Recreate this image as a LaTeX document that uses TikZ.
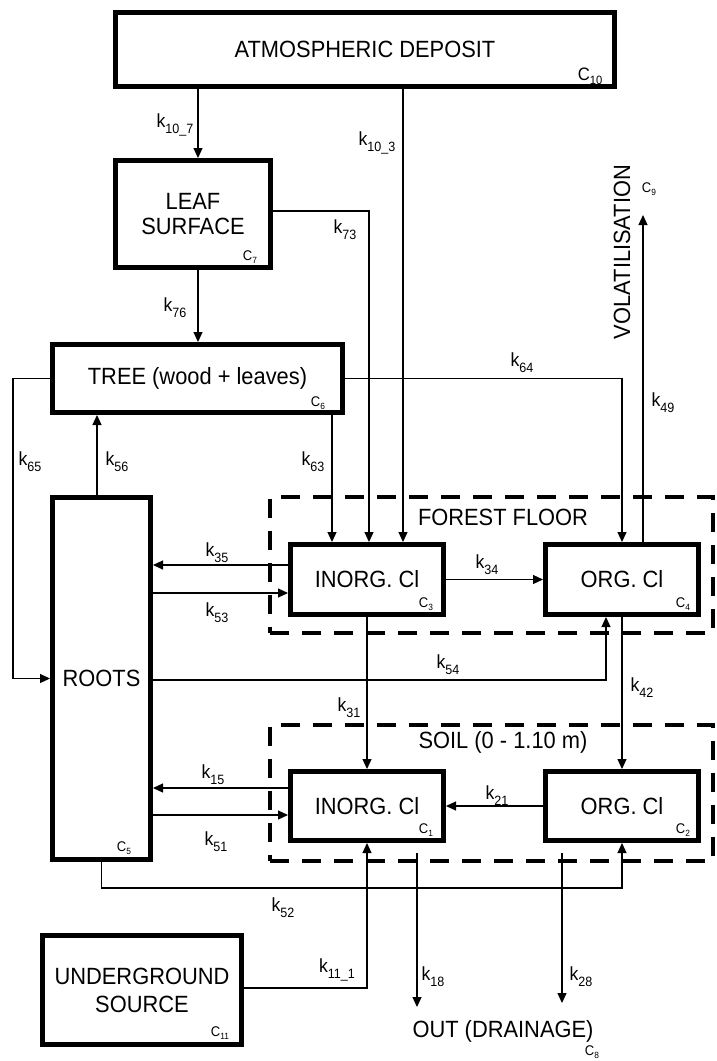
\documentclass[tikz,border=0pt]{standalone}
\usepackage{fontspec}
\setmainfont{Liberation Sans}[FakeStretch=0.93]
\usetikzlibrary{arrows.meta,positioning,calc}

\newcommand{\kr}[1]{k\raisebox{-6pt}{\fontsize{13.5}{14}\selectfont #1}}
\newcommand{\cp}[1]{C\raisebox{-3pt}{\fontsize{9}{9}\selectfont #1}}

\begin{document}
\begin{tikzpicture}[x=1pt,y=-1pt,
    compart/.style={draw, line width=5pt, fill=white, inner sep=0pt, align=center,
      font=\fontsize{23.5}{25}\selectfont},
    zone/.style={draw, line width=4.5pt, dash pattern=on 19pt off 13pt, inner sep=0pt},
    flow/.style={line width=1.2pt, -{Triangle[length=10pt,width=9pt]}},
    rate/.style={font=\fontsize{19}{20}\selectfont, inner sep=0pt},
    cid/.style={font=\fontsize{14}{14}\selectfont, inner sep=0pt},
    txt/.style={font=\fontsize{23.5}{25}\selectfont, inner sep=0pt}]

  \useasboundingbox (0,0) rectangle (716,1061);

  % dashed layers
  \node[zone, minimum width=443pt, minimum height=136pt] (forest) at (491.5,565) {};
  \node[zone, minimum width=443pt, minimum height=136pt] (soil) at (491.5,793) {};
  \node[txt] (forestlbl) at (503,517) {FOREST FLOOR};
  \node[txt] (soillbl) at (503,742) {SOIL (0 - 1.10 m)};

  % compartments
  \node[compart, minimum width=499pt, minimum height=74pt] (atmo) at (365,49.5) {ATMOSPHERIC DEPOSIT};
  \node[compart, minimum width=155pt, minimum height=107pt] (leaf) at (193,214) {LEAF\\SURFACE};
  \node[compart, minimum width=290pt, minimum height=68pt] (tree) at (197.5,378.5) {TREE (wood + leaves)};
  \node[compart, minimum width=98pt, minimum height=362pt] (roots) at (101.5,678.5) {ROOTS};
  \node[compart, minimum width=153pt, minimum height=70pt] (inorg3) at (367,579.5) {INORG. Cl};
  \node[compart, minimum width=153pt, minimum height=70pt] (org4) at (622,579.5) {ORG. Cl};
  \node[compart, minimum width=153pt, minimum height=69pt] (inorg1) at (367,806) {INORG. Cl};
  \node[compart, minimum width=153pt, minimum height=69pt] (org2) at (622,806) {ORG. Cl};
  \node[compart, minimum width=199pt, minimum height=109pt, font=\fontsize{23.5}{28}\selectfont] (under) at (142,990) {UNDERGROUND\\SOURCE};

  % compartment numbers
  \node[font=\fontsize{18}{18}\selectfont, inner sep=0pt] (c10) at (590,76)
    {C\raisebox{-4pt}{\fontsize{12}{12}\selectfont 10}};
  \node[cid] (c7) at (250,257) {\cp{7}};
  \node[cid] (c6) at (318,403) {\cp{6}};
  \node[cid] (c5) at (124,848) {\cp{5}};
  \node[cid] (c3) at (426,604) {\cp{3}};
  \node[cid] (c4) at (683,604) {\cp{4}};
  \node[cid] (c1) at (426,830) {\cp{1}};
  \node[cid] (c2) at (683,830) {\cp{2}};
  \node[cid] (c11) at (220,1033) {\cp{11}};
  \node[txt, rotate=90] (volatlbl) at (622,252) {VOLATILISATION};
  \node[cid] (c9) at (649,189) {\cp{9}};
  \node[txt] (outlbl) at (503,1031) {OUT (DRAINAGE)};
  \node[cid] (c8) at (592,1052) {\cp{8}};

  % free ends
  \coordinate (volat) at (643,215);
  \coordinate (drainA) at (417,1007);
  \coordinate (drainB) at (562,1003);

  % fluxes
  \draw[flow] ([xshift=5pt]leaf.north |- atmo.south) -- ([xshift=5pt]leaf.north);
  \draw[flow] ([xshift=36pt]inorg3.north |- atmo.south) -- ([xshift=36pt]inorg3.north);
  \draw[flow] ([yshift=3pt]leaf.east) -| ([xshift=2pt]inorg3.north);
  \draw[flow] ([xshift=5pt]leaf.south) -- ([xshift=5pt]leaf.south |- tree.north);
  \draw[flow] (tree.west) -- ++(-37,0) |- (roots.west);
  \draw[flow] ([xshift=-4.5pt]roots.north) -- ([xshift=-4.5pt]roots.north |- tree.south);
  \draw[flow] ([xshift=-35pt]inorg3.north |- tree.south) -- ([xshift=-35pt]inorg3.north);
  \draw[flow] (tree.east) -| (org4.north);
  \draw[flow] ([xshift=21pt]org4.north) -- (volat);
  \draw[flow] (inorg3.east) -- (org4.west);
  \draw[flow] ([yshift=14.5pt]inorg3.west) -- ([yshift=14.5pt]inorg3.west -| roots.east);
  \draw[flow] ([yshift=-13.5pt]inorg3.west -| roots.east) -- ([yshift=-13.5pt]inorg3.west);
  \draw[flow] ([yshift=-1.5pt]roots.east) -| ([xshift=-16pt]org4.south);
  \draw[flow] (inorg3.south) -- (inorg1.north);
  \draw[flow] (org4.south) -- (org2.north);
  \draw[flow] (org2.west) -- (inorg1.east);
  \draw[flow] ([yshift=18pt]inorg1.west) -- ([yshift=18pt]inorg1.west -| roots.east);
  \draw[flow] ([yshift=-9pt]inorg1.west -| roots.east) -- ([yshift=-9pt]inorg1.west);
  \draw[flow] (roots.south) -- ++(0,26) -| (org2.south);
  \draw[flow] ([yshift=2pt]under.east) -| (inorg1.south);
  \draw[flow] ([xshift=50pt,yshift=-10pt]inorg1.south) -- (drainA);
  \draw[flow] ([xshift=-60pt,yshift=-10pt]org2.south) -- (drainB);

  % rate constants
  \node[rate] (k107) at (175,125) {\kr{10\_7}};
  \node[rate] (k103) at (377,143) {\kr{10\_3}};
  \node[rate] (k73) at (345,230) {\kr{73}};
  \node[rate] (k76) at (175,308) {\kr{76}};
  \node[rate] (k65) at (30,462) {\kr{65}};
  \node[rate] (k56) at (117,462) {\kr{56}};
  \node[rate] (k63) at (313,462) {\kr{63}};
  \node[rate] (k64) at (522,363) {\kr{64}};
  \node[rate] (k49) at (663,403) {\kr{49}};
  \node[rate] (k35) at (217,553) {\kr{35}};
  \node[rate] (k53) at (217,613) {\kr{53}};
  \node[rate] (k34) at (487,565) {\kr{34}};
  \node[rate] (k54) at (448,665) {\kr{54}};
  \node[rate] (k31) at (349,708) {\kr{31}};
  \node[rate] (k42) at (642,688) {\kr{42}};
  \node[rate] (k15) at (213,775) {\kr{15}};
  \node[rate] (k51) at (216,842) {\kr{51}};
  \node[rate] (k21) at (497,796) {\kr{21}};
  \node[rate] (k52) at (283,908) {\kr{52}};
  \node[rate] (k111) at (337,970) {\kr{11\_1}};
  \node[rate] (k18) at (433,977) {\kr{18}};
  \node[rate] (k28) at (581,977) {\kr{28}};
\end{tikzpicture}
\end{document}
